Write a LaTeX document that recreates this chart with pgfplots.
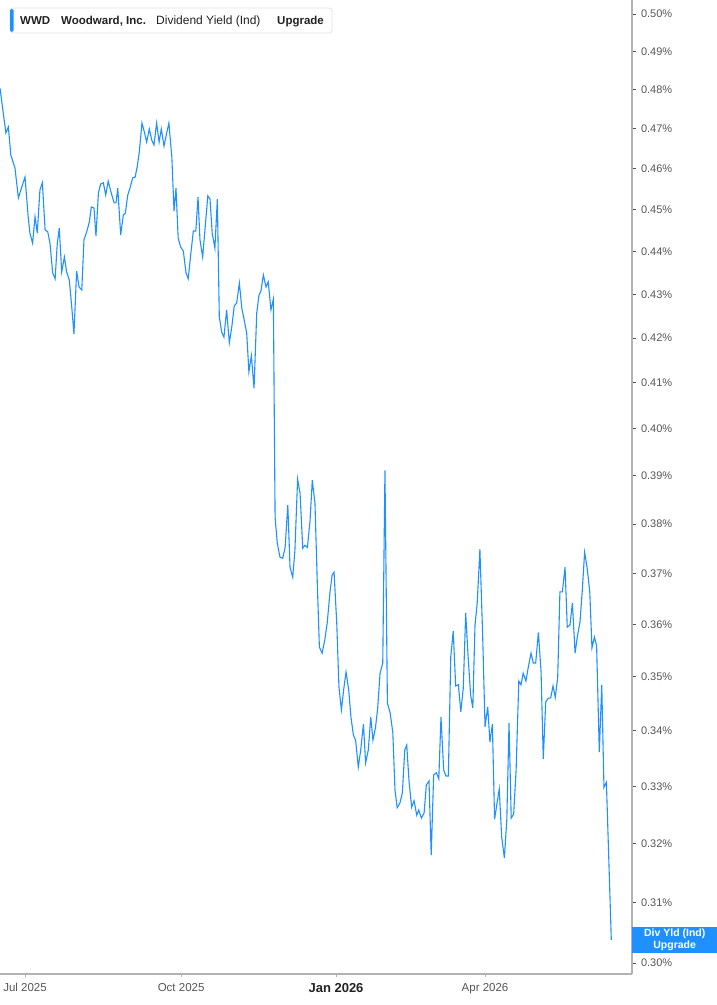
\documentclass[border=0pt]{standalone}
\usepackage{pgfplots}
\pgfplotsset{compat=1.18}
\usepackage{fontspec}
\setmainfont{Liberation Sans}
\definecolor{lineblue}{RGB}{30,144,255}
\definecolor{axisgray}{RGB}{178,178,178}
\definecolor{ticktext}{RGB}{85,85,85}
\definecolor{darktext}{RGB}{34,34,34}
\definecolor{boxborder}{RGB}{228,228,228}

% x: trading days counted from 1 Jul 2025, y: dividend yield in percent
\pgfplotstableread{
t v
-10.2 0.4804
-8.9 0.4741
-7.8 0.4690
-6.8 0.4705
-5.8 0.4635
-4.1 0.4602
-2.7 0.4529
-1.3 0.4556
0.0 0.4580
1.3 0.4483
2.0 0.4444
3.1 0.4420
4.1 0.4483
5.0 0.4444
6.1 0.4548
7.1 0.4566
8.2 0.4452
9.3 0.4447
10.2 0.4420
11.3 0.4350
12.3 0.4336
13.2 0.4420
14.0 0.4456
15.0 0.4352
16.1 0.4387
17.0 0.4352
18.1 0.4333
19.1 0.4271
20.0 0.4209
21.1 0.4354
22.1 0.4317
23.2 0.4310
24.1 0.4428
25.2 0.4447
26.3 0.4471
27.1 0.4507
28.2 0.4504
29.0 0.4437
30.0 0.4541
30.9 0.4563
32.0 0.4566
33.0 0.4536
34.0 0.4570
35.1 0.4544
36.4 0.4517
37.2 0.4517
37.9 0.4553
39.1 0.4440
40.2 0.4488
41.0 0.4492
42.0 0.4536
42.9 0.4553
44.0 0.4578
45.0 0.4580
45.9 0.4607
46.7 0.4642
47.8 0.4715
48.8 0.4692
49.7 0.4667
50.8 0.4700
51.8 0.4672
52.7 0.4660
53.8 0.4715
54.8 0.4667
55.7 0.4700
56.8 0.4657
57.9 0.4690
58.8 0.4715
60.0 0.4630
60.9 0.4497
61.7 0.4553
62.6 0.4432
63.6 0.4411
64.7 0.4401
65.8 0.4350
66.7 0.4336
67.7 0.4392
68.8 0.4449
69.8 0.4449
70.7 0.4531
71.5 0.4428
72.6 0.4387
73.6 0.4456
74.7 0.4534
75.6 0.4526
76.5 0.4444
77.6 0.4408
78.6 0.4526
79.4 0.4248
80.4 0.4213
81.3 0.4202
82.4 0.4264
83.5 0.4189
84.5 0.4225
85.5 0.4273
86.5 0.4280
87.6 0.4326
88.6 0.4268
89.5 0.4243
90.6 0.4211
91.5 0.4124
92.5 0.4160
93.6 0.4088
94.7 0.4257
95.6 0.4298
96.4 0.4307
97.4 0.4345
98.5 0.4317
99.4 0.4329
100.5 0.4264
101.5 0.4289
102.2 0.3814
103.1 0.3761
104.2 0.3733
105.3 0.3731
106.3 0.3753
107.4 0.3839
108.3 0.3713
109.4 0.3693
110.3 0.3747
111.4 0.3893
112.4 0.3864
113.5 0.3751
114.4 0.3757
115.4 0.3753
116.5 0.3808
117.4 0.3891
118.5 0.3843
119.5 0.3673
120.3 0.3557
121.4 0.3545
122.5 0.3570
123.5 0.3603
124.6 0.3662
125.5 0.3697
126.3 0.3703
127.4 0.3603
128.3 0.3481
129.3 0.3438
130.2 0.3475
131.2 0.3509
132.3 0.3475
133.2 0.3425
134.2 0.3392
135.1 0.3383
136.2 0.3334
137.2 0.3365
138.3 0.3412
139.2 0.3342
140.3 0.3365
141.3 0.3425
142.2 0.3383
143.2 0.3405
144.1 0.3440
145.1 0.3507
146.2 0.3526
147.1 0.3912
148.1 0.3451
149.2 0.3433
150.3 0.3397
151.2 0.3293
152.1 0.3262
153.2 0.3270
154.2 0.3288
155.2 0.3365
156.0 0.3374
156.9 0.3311
158.0 0.3263
159.0 0.3274
160.1 0.3249
160.9 0.3258
162.0 0.3244
163.1 0.3253
164.0 0.3302
165.1 0.3309
166.0 0.3180
167.0 0.3320
168.1 0.3324
169.1 0.3313
170.0 0.3425
171.1 0.3329
172.0 0.3318
173.0 0.3318
174.0 0.3538
175.0 0.3587
176.0 0.3483
177.1 0.3485
178.1 0.3435
179.1 0.3479
180.1 0.3622
181.0 0.3545
182.1 0.3466
183.0 0.3442
183.9 0.3599
184.8 0.3642
185.9 0.3749
187.0 0.3584
188.0 0.3407
189.1 0.3444
190.0 0.3379
191.0 0.3412
191.9 0.3242
192.9 0.3270
193.8 0.3295
194.8 0.3211
195.9 0.3175
196.9 0.3241
197.8 0.3414
198.7 0.3244
199.7 0.3251
200.7 0.3329
201.8 0.3492
202.7 0.3485
203.6 0.3507
204.7 0.3492
205.7 0.3519
206.8 0.3545
207.7 0.3526
208.7 0.3526
209.8 0.3585
210.9 0.3509
211.8 0.3349
212.8 0.3453
213.9 0.3460
214.8 0.3460
215.8 0.3483
216.7 0.3462
217.7 0.3499
218.6 0.3664
219.6 0.3664
220.7 0.3713
221.6 0.3595
222.7 0.3599
223.7 0.3642
224.8 0.3545
225.7 0.3576
226.8 0.3605
227.7 0.3664
228.7 0.3743
229.7 0.3713
230.8 0.3664
231.7 0.3555
232.7 0.3576
233.6 0.3559
234.7 0.3361
235.7 0.3485
236.6 0.3298
237.6 0.3307
239.6 0.3038
}\yielddata

\begin{document}
\begin{tikzpicture}
\path[use as bounding box] (0pt,-31pt) rectangle (717pt,974pt);
\begin{axis}[
  at={(0pt,0pt)}, anchor=south west,
  scale only axis, width=632pt, height=974pt,
  xmin=-10.22, xmax=248.06,
  ymode=log, ymin=0.29826, ymax=0.50378,
  axis x line*=bottom, axis y line*=right,
  axis line style={draw=axisgray, line width=1.2pt, -},
  tick align=outside,
  major tick length=3.5pt,
  tick style={draw=axisgray, line width=1pt},
  ytick style={draw=ticktext, line width=1pt},
  yminorticks=false, xminorticks=false,
  xtick={0,63.8,127.1,188},
  xticklabels={Jul 2025,Oct 2025,{\fontsize{13}{13}\selectfont\bfseries\color{darktext}Jan 2026},Apr 2026},
  xticklabel style={font=\fontsize{11.5}{12}\selectfont, text=ticktext, yshift=-2.5pt},
  ytick={0.30,0.31,0.32,0.33,0.34,0.35,0.36,0.37,0.38,0.39,0.40,0.41,0.42,0.43,0.44,0.45,0.46,0.47,0.48,0.49,0.50},
  yticklabels={0.30\%,0.31\%,0.32\%,0.33\%,0.34\%,0.35\%,0.36\%,0.37\%,0.38\%,0.39\%,0.40\%,0.41\%,0.42\%,0.43\%,0.44\%,0.45\%,0.46\%,0.47\%,0.48\%,0.49\%,0.50\%},
  ytick pos=right, yticklabel pos=right,
  yticklabel style={font=\fontsize{11}{12}\selectfont, text=ticktext, anchor=west, xshift=2pt},
  /pgf/number format/assume math mode=true,
]
\addplot[lineblue, line width=1.1pt] table[x=t, y=v] {\yielddata};
\coordinate (last) at (axis cs:239.6,0.3038);
\end{axis}
% end-of-series label
\node[fill=lineblue, anchor=west, minimum width=85pt, minimum height=26pt, inner sep=0pt,
      text=white, font=\fontsize{10.5}{11.5}\selectfont\bfseries, align=center]
  at (632pt,0|-last) {Div Yld (Ind)\\Upgrade};
% header box
\draw[boxborder, fill=white, line width=0.8pt, rounded corners=3pt] (10pt,941pt) rectangle (332pt,966pt);
\fill[lineblue, rounded corners=1.5pt] (10pt,942pt) rectangle (13.5pt,965pt);
\begin{scope}[every node/.style={anchor=base west, inner sep=0pt, text=darktext}]
\node[font=\fontsize{11.5}{12}\selectfont\bfseries] at (20pt,949.5pt) {WWD};
\node[font=\fontsize{11.5}{12}\selectfont\bfseries] at (61pt,949.5pt) {Woodward, Inc.};
\node[font=\fontsize{12}{12}\selectfont] at (156pt,949.5pt) {Dividend Yield (Ind)};
\node[font=\fontsize{11.5}{12}\selectfont\bfseries] at (277pt,949.5pt) {Upgrade};
\end{scope}
\end{tikzpicture}
\end{document}
